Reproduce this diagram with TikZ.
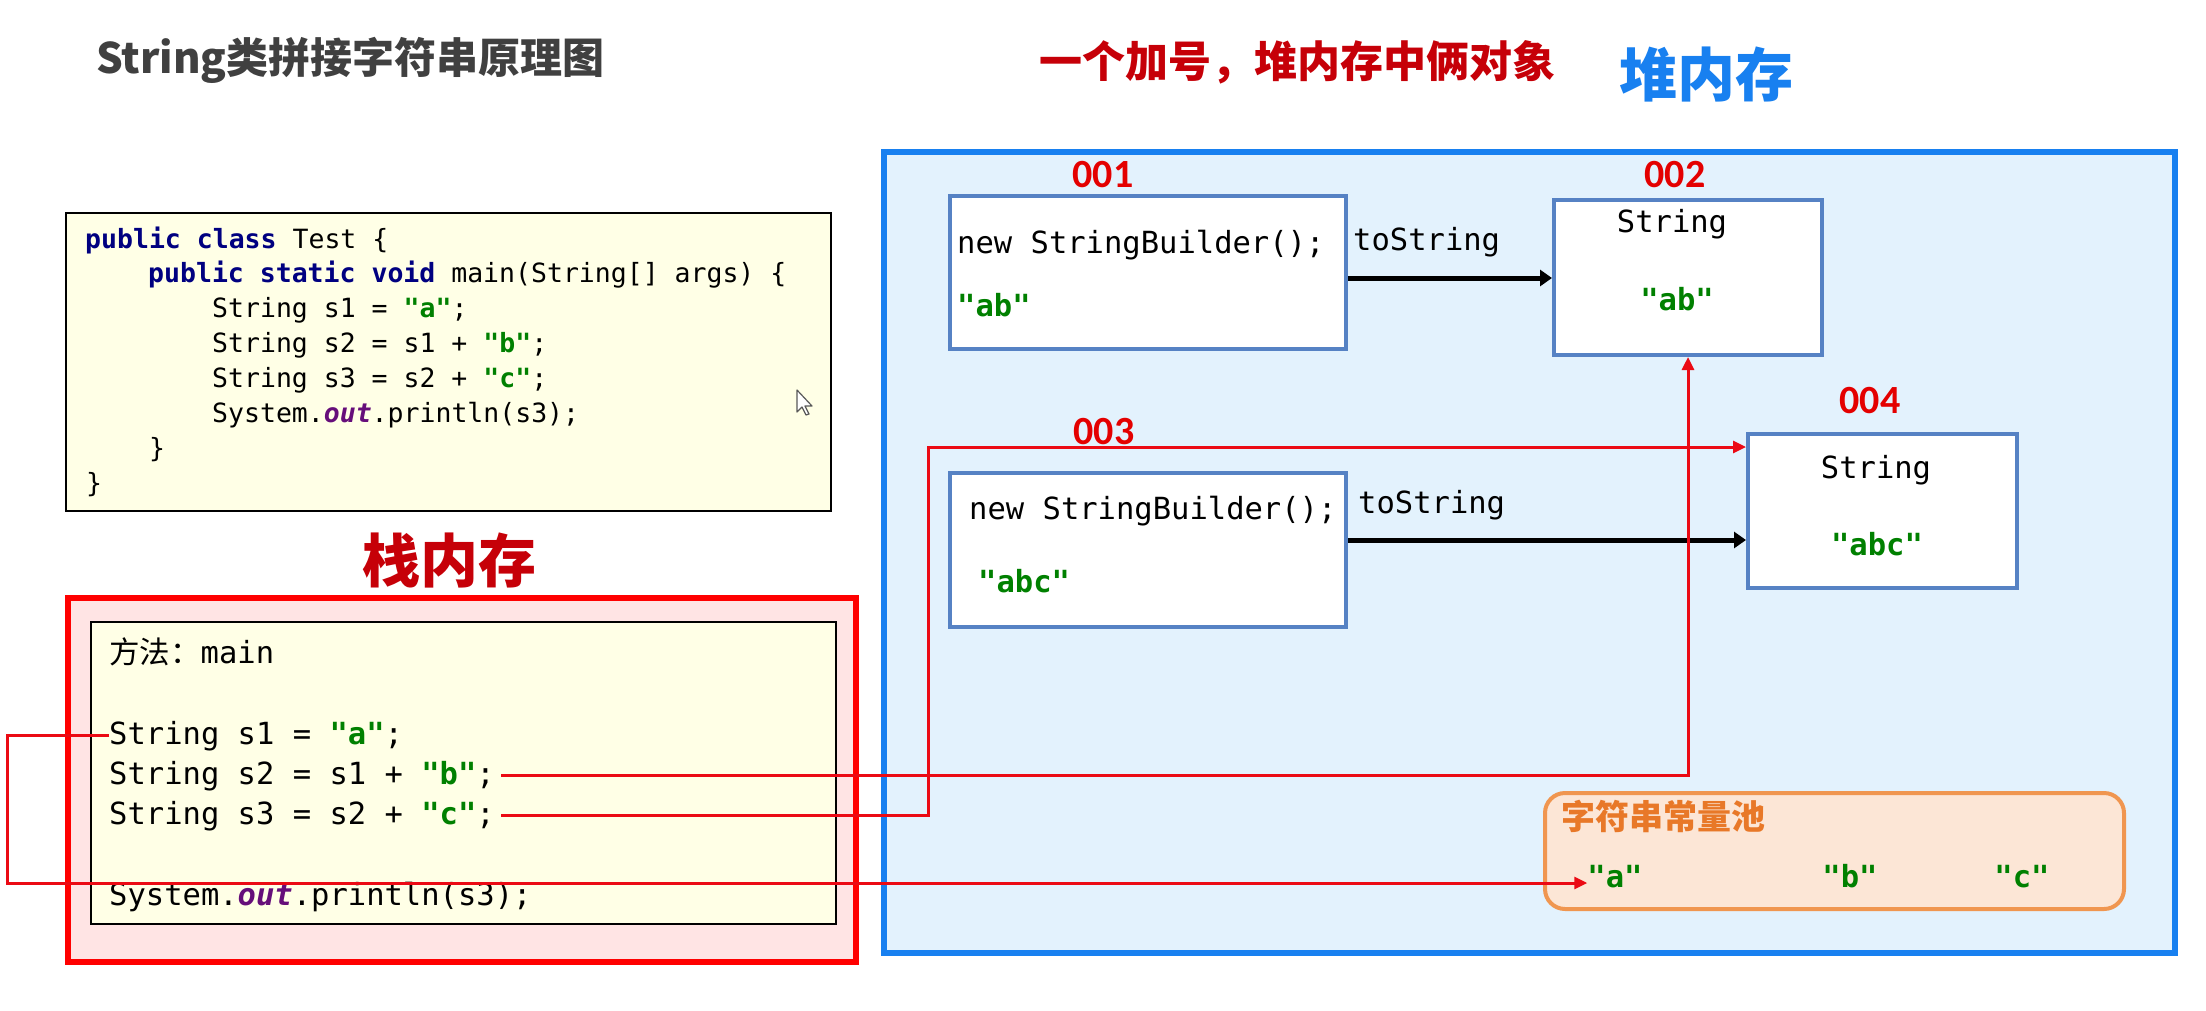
\documentclass[tikz,border=0pt]{standalone}
\usepackage{fontspec}
\setmainfont{Carlito}
\newfontfamily\codefont{DejaVu Sans Mono}
\newfontfamily\cjk{Noto Sans CJK SC}
\usetikzlibrary{arrows.meta}
\definecolor{kwcol}{RGB}{0,0,128}
\definecolor{strcol}{RGB}{0,128,0}
\definecolor{fldcol}{RGB}{102,14,122}
\definecolor{boxblue}{RGB}{86,130,196}
\definecolor{heapblue}{RGB}{24,128,240}
\definecolor{heapfill}{RGB}{227,242,253}
\definecolor{stackfill}{RGB}{255,228,228}
\definecolor{yelfill}{RGB}{255,255,230}
\definecolor{poolfill}{RGB}{252,230,214}
\definecolor{pooldraw}{RGB}{240,150,80}
\definecolor{pooltext}{RGB}{232,120,40}
\definecolor{darkred}{RGB}{198,0,8}
\definecolor{titlegray}{RGB}{64,64,64}
\definecolor{lblred}{RGB}{228,0,0}
\definecolor{lnred}{RGB}{235,10,20}
\newcommand\jkw[1]{\textcolor{kwcol}{\bfseries #1}}
\newcommand\jstr[1]{\textcolor{strcol}{\bfseries #1}}
\newcommand\jfld[1]{\textcolor{fldcol}{\bfseries\itshape #1}}
\tikzset{
  objbox/.style={draw=boxblue, line width=4pt, fill=white, inner sep=0pt},
  codesmall/.style={font=\codefont\fontsize{26.5pt}{32pt}\selectfont, anchor=base west, inner sep=0pt},
  codebig/.style={font=\codefont\fontsize{30.5pt}{36pt}\selectfont, anchor=base west, inner sep=0pt},
  addr/.style={font=\bfseries\fontsize{40pt}{44pt}\selectfont, text=lblred, inner sep=0pt},
  redarr/.style={draw=lnred, line width=3pt, -{Triangle[length=13pt,width=12pt]}},
  blkarr/.style={draw=black, line width=5pt, -{Triangle[length=12pt,width=16pt]}},
}
\begin{document}
\begin{tikzpicture}[x=1pt,y=-1pt]
\useasboundingbox (0,0) rectangle (2206,1010);
\fill[white] (0,0) rectangle (2206,1010);

% titles
\node[anchor=west, inner sep=0pt, font=\cjk\bfseries\fontsize{42pt}{46pt}\selectfont, text=titlegray] (title) at (96,60) {String类拼接字符串原理图};
\node[anchor=west, inner sep=0pt, font=\cjk\bfseries\fontsize{43pt}{46pt}\selectfont, text=darkred] (rtitle) at (1039,62) {一个加号，堆内存中俩对象};
\node[anchor=west, inner sep=0pt, font=\cjk\bfseries\fontsize{58pt}{60pt}\selectfont, text=heapblue] (htitle) at (1619,74) {堆内存};
\node[anchor=west, inner sep=0pt, font=\cjk\bfseries\fontsize{58pt}{60pt}\selectfont, text=darkred] (stitle) at (362,560) {栈内存};

% heap
\node[draw=heapblue, fill=heapfill, line width=6pt, minimum width=1291pt, minimum height=801pt, inner sep=0pt] (heap) at (1529.5,552.5) {};
\node[objbox, minimum width=396pt, minimum height=153pt] (b1) at (1148,272.5) {};
\node[objbox, minimum width=268pt, minimum height=155pt] (b2) at (1688,277.5) {};
\node[objbox, minimum width=396pt, minimum height=154pt] (b3) at (1148,550) {};
\node[objbox, minimum width=269pt, minimum height=154pt] (b4) at (1882.5,511) {};
\node[addr] (a1) at (1103,175) {001};
\node[addr] (a2) at (1675,175) {002};
\node[addr] (a3) at (1104,432) {003};
\node[addr] (a4) at (1870,401) {004};

\node[codebig] (t1) at (957,253) {new StringBuilder();};
\node[codebig] (v1) at (957,316) {\jstr{"ab"}};
\node[codebig] (ts1) at (1353,250) {toString};
\node[codebig, anchor=base] (h2) at (1672,232) {String};
\node[codebig, anchor=base] (v2) at (1677,310) {\jstr{"ab"}};
\node[codebig] (t3) at (969,519) {new StringBuilder();};
\node[codebig] (v3) at (978,592) {\jstr{"abc"}};
\node[codebig] (ts2) at (1358,513) {toString};
\node[codebig, anchor=base] (h4) at (1876,478) {String};
\node[codebig, anchor=base] (v4) at (1877,555) {\jstr{"abc"}};

% string pool
\node[draw=pooldraw, fill=poolfill, line width=4pt, rounded corners=20pt, minimum width=579pt, minimum height=116pt, inner sep=0pt] (pool) at (1834.5,851) {};
\node[anchor=west, inner sep=0pt, font=\cjk\bfseries\fontsize{34pt}{36pt}\selectfont, text=pooltext] (ptitle) at (1561,816) {字符串常量池};
\node[codebig, anchor=base] (pa) at (1615,887) {\jstr{"a"}};
\node[codebig, anchor=base] (pb) at (1850,887) {\jstr{"b"}};
\node[codebig, anchor=base] (pc) at (2022,887) {\jstr{"c"}};

% code box
\node[draw=black, fill=yelfill, line width=2.5pt, minimum width=765pt, minimum height=298pt, inner sep=0pt] (code) at (448.5,362) {};
\node[codesmall] (c1) at (85,248) {\jkw{public} \jkw{class} Test \{};
\node[codesmall] (c2) at (148,282) {\jkw{public} \jkw{static} \jkw{void} main(String[] args) \{};
\node[codesmall] (c3) at (212,317) {String s1 = \jstr{"a"};};
\node[codesmall] (c4) at (212,352) {String s2 = s1 + \jstr{"b"};};
\node[codesmall] (c5) at (212,387) {String s3 = s2 + \jstr{"c"};};
\node[codesmall] (c6) at (212,422) {System.\jfld{out}.println(s3);};
\node[codesmall] (c7) at (149,457) {\}};
\node[codesmall] (c8) at (86,492) {\}};
% mouse cursor
\draw[draw=gray!70!black, fill=white, line width=1.2pt, line join=round] (797,390) -- (797,412) -- (802,407) -- (806,415) -- (809,414) -- (805,406) -- (812,406) -- cycle;

% stack
\node[draw=red, fill=stackfill, line width=6pt, minimum width=788pt, minimum height=364pt, inner sep=0pt] (stack) at (462,780) {};
\node[draw=black, fill=yelfill, line width=2.5pt, minimum width=745pt, minimum height=302pt, inner sep=0pt] (frame) at (463.5,773) {};
\node[codebig] (m0) at (109,663) {{\cjk 方法：}main};
\node[codebig] (s1) at (109,744) {String s1 = \jstr{"a"};};
\node[codebig] (s2) at (109,784) {String s2 = s1 + \jstr{"b"};};
\node[codebig] (s3) at (109,824) {String s3 = s2 + \jstr{"c"};};
\node[codebig] (m4) at (109,905) {System.\jfld{out}.println(s3);};

% connectors
\coordinate (kL) at (7,883);
\coordinate (k3) at (928,447);
\draw[blkarr] ([yshift=-5.5pt]b1.east) -- ([yshift=-5.5pt]b1.east -| b2.west);
\draw[blkarr] ([yshift=10pt]b3.east) -- ([yshift=10pt]b3.east -| b4.west);
\draw[redarr] (s1.west) -| (kL) -- (kL -| pa.west);
\draw[redarr] ([xshift=6pt]s2.east) -| (b2.south);
\draw[redarr] ([xshift=6pt]s3.east) -| (k3) -- (k3 -| b4.west);
\end{tikzpicture}
\end{document}
